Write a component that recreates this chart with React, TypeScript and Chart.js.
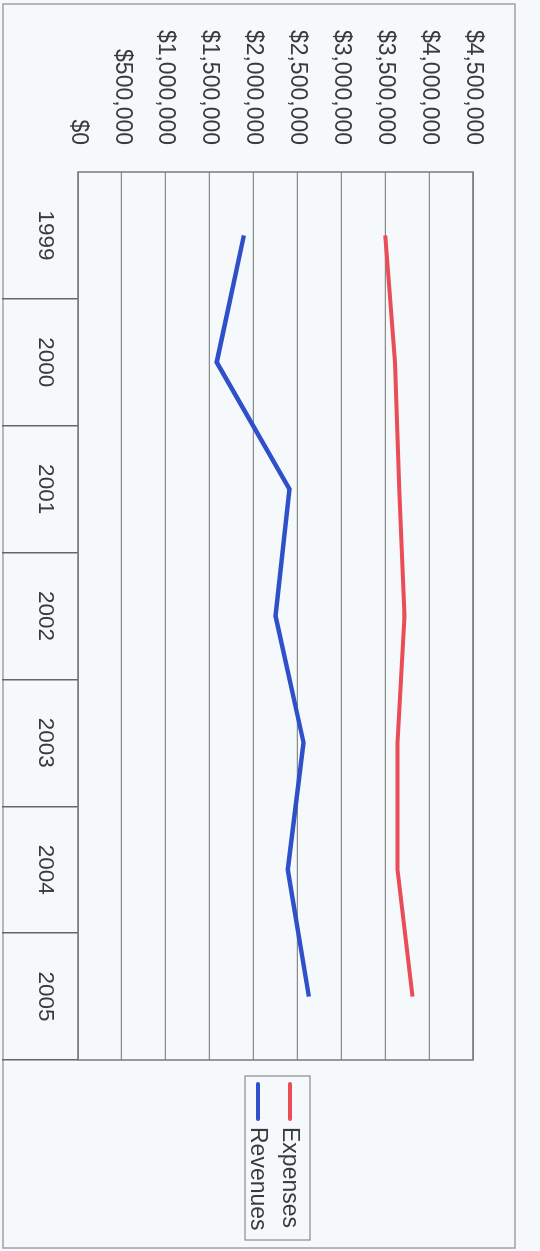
import React, { useEffect, useRef } from "react";
import { Chart, registerables } from "chart.js";

Chart.register(...registerables);

const years = ["1999", "2000", "2001", "2002", "2003", "2004", "2005"];
const expenses = [3500000, 3610000, 3660000, 3720000, 3640000, 3640000, 3810000];
const revenues = [1890000, 1580000, 2410000, 2250000, 2570000, 2390000, 2630000];
const valueMax = 4500000;
const valueStep = 500000;

const W = 1251;
const H = 540;
const BG = "#f6f9fc";
const FONT = "'Liberation Sans', Arial, sans-serif";

const fmt = (v: number) => "$" + Math.round(v).toLocaleString("en-US");

const framePlugin = {
  id: "frame",
  beforeDraw(chart: any) {
    const ctx = chart.ctx;
    ctx.save();
    ctx.fillStyle = BG;
    ctx.fillRect(0, 0, chart.width, chart.height);
    ctx.strokeStyle = "#a0a0a0";
    ctx.lineWidth = 1.5;
    ctx.strokeRect(4, 25, 1244, 512);
    ctx.restore();
  },
  afterDatasetsDraw(chart: any) {
    const ctx = chart.ctx;
    const a = chart.chartArea;
    ctx.save();
    ctx.strokeStyle = "#7a7a7a";
    ctx.lineWidth = 1.5;
    ctx.strokeRect(a.left, a.top, a.right - a.left, a.bottom - a.top);
    // legend
    const lx = 1076, ly = 230, lw = 164, lh = 65;
    ctx.strokeStyle = "#8a8a8a";
    ctx.lineWidth = 1.2;
    ctx.strokeRect(lx, ly, lw, lh);
    const items = chart.data.datasets;
    const rowY = [250, 282];
    items.forEach((ds: any, i: number) => {
      ctx.strokeStyle = ds.borderColor;
      ctx.lineWidth = 4;
      ctx.lineCap = "round";
      ctx.beginPath();
      ctx.moveTo(lx + 8, rowY[i]);
      ctx.lineTo(lx + 43, rowY[i]);
      ctx.stroke();
      ctx.fillStyle = "#3a3a3a";
      ctx.font = "23px " + FONT;
      ctx.textBaseline = "middle";
      ctx.textAlign = "left";
      ctx.fillText(ds.label, lx + 51, rowY[i] + 1);
    });
    ctx.restore();
  },
};

export default function App() {
  const ref = useRef<HTMLCanvasElement | null>(null);
  useEffect(() => {
    if (!ref.current) return;
    const chart = new Chart(ref.current, {
      type: "line",
      data: {
        labels: years,
        datasets: [
          {
            label: "Expenses",
            data: expenses,
            borderColor: "#e94d58",
            borderWidth: 4,
            pointRadius: 0,
            tension: 0,
          },
          {
            label: "Revenues",
            data: revenues,
            borderColor: "#2f50c8",
            borderWidth: 4.5,
            pointRadius: 0,
            tension: 0,
          },
        ],
      },
      options: {
        animation: false,
        responsive: false,
        maintainAspectRatio: false,
        devicePixelRatio: 1,
        layout: { padding: { left: 0, top: 67, right: 191, bottom: 0 } },
        plugins: { legend: { display: false }, tooltip: { enabled: false } },
        scales: {
          x: {
            type: "category",
            offset: true,
            afterFit: (s: any) => {
              s.height = 78;
            },
            grid: {
              offset: true,
              drawOnChartArea: false,
              drawTicks: true,
              tickLength: 76,
              lineWidth: 1.5,
              color: (c: any) =>
                c.index === 0 || c.index === years.length ? "rgba(0,0,0,0)" : "#666666",
            },
            border: { display: false },
            ticks: {
              padding: -57,
              color: "#3a3a3a",
              font: { size: 22.5, family: FONT },
              maxRotation: 0,
              minRotation: 0,
            },
          },
          y: {
            min: 0,
            max: valueMax,
            afterFit: (s: any) => {
              s.width = 172;
            },
            grid: { color: "#8c8c8c", lineWidth: 1.2, drawTicks: false },
            border: { display: false },
            ticks: {
              stepSize: valueStep,
              padding: 27,
              color: "#3a3a3a",
              font: { size: 23, family: FONT },
              callback: (v: any) => fmt(Number(v)),
            },
          },
        },
      },
      plugins: [framePlugin],
    });
    return () => chart.destroy();
  }, []);

  return (
    <div
      style={{
        position: "fixed",
        left: 0,
        top: 0,
        width: 540,
        height: 1251,
        background: BG,
        overflow: "hidden",
      }}
    >
      <canvas
        ref={ref}
        width={W}
        height={H}
        style={{
          position: "absolute",
          left: 0,
          top: 0,
          width: W,
          height: H,
          transformOrigin: "0 0",
          transform: "translateX(540px) rotate(90deg)",
        }}
      />
    </div>
  );
}
